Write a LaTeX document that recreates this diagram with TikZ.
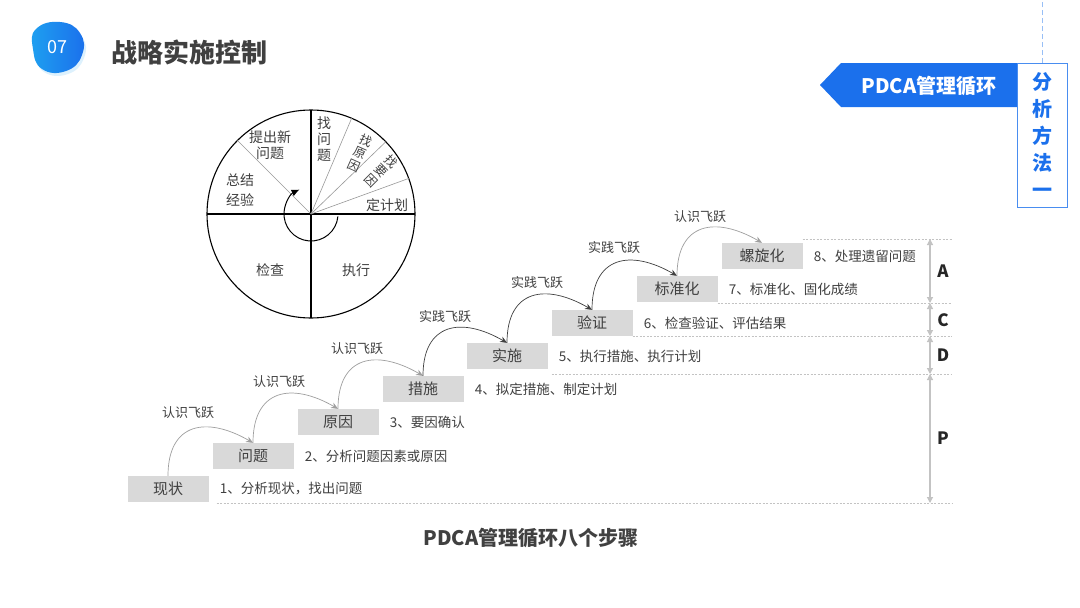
\documentclass[tikz,border=0pt]{standalone}
\usepackage{fontspec}
\setmainfont{Noto Sans CJK SC}
\usetikzlibrary{arrows.meta, positioning, calc}
\definecolor{pblue}{RGB}{27,112,236}
\definecolor{pcyan}{RGB}{30,160,240}
\definecolor{ink}{RGB}{64,64,64}
\definecolor{boxgray}{RGB}{217,217,217}
\definecolor{rulegray}{RGB}{195,195,195}

\begin{document}
\begin{tikzpicture}[x=1pt, y=1pt,
  stepbox/.style={fill=boxgray, minimum width=81pt, minimum height=26pt,
  inner sep=0pt, text=ink, font=\fontsize{15}{15}\selectfont},
  desc/.style={inner sep=0pt, text=ink, font=\fontsize{13.5}{14}\selectfont},
  leaplbl/.style={inner sep=0pt, text=ink, font=\fontsize{13}{13}\selectfont},
  knowarr/.style={-{Stealth[length=7pt,width=6pt]}, gray!75, line width=0.7pt, looseness=1.5},
  practarr/.style={-{Stealth[length=7pt,width=6pt]}, ink, line width=0.7pt, looseness=1.5},
  guide/.style={rulegray, dash pattern=on 2pt off 1.5pt, line width=0.6pt},
  phasearr/.style={{Triangle[length=6pt,width=6pt]}-{Triangle[length=6pt,width=6pt]}, rulegray, line width=1.2pt},
  phase/.style={font=\fontsize{17}{17}\selectfont\bfseries, text=black!85},
  wheeltxt/.style={text=ink, align=center, inner sep=0pt, font=\fontsize{14}{16}\selectfont},
  tilted/.style={wheeltxt, inner sep=0pt, font=\fontsize{12.5}{14}\selectfont}
]
\useasboundingbox (0,0) rectangle (1080,-608);
\fill[white] (0,0) rectangle (1080,-608);

% header
\fill[pcyan!15] plot[smooth cycle, tension=0.8] coordinates {(37,-33) (61,-25) (82,-37) (84,-58) (68,-74) (44,-72) (35,-53)};
\shade[left color=pcyan, right color=pblue] plot[smooth cycle, tension=0.8] coordinates {(36,-29) (60,-22) (80,-33) (82,-55) (66,-71) (42,-69) (33,-49)};
\node[text=white, font=\fontsize{18}{18}\selectfont] (num) at (57,-47) {07};
\node[anchor=west, text=ink, font=\fontsize{26}{26}\selectfont\bfseries] (title) at (108,-52) {战略实施控制};

% tag on the right
\fill[pblue] (820,-85) -- (841,-63) -- (1017,-63) -- (1017,-107) -- (841,-107) -- cycle;
\node[text=white, font=\fontsize{20}{20}\selectfont\bfseries] (tag) at (929,-86) {PDCA管理循环};
\node[draw=pblue!80, line width=0.8pt, fill=white, anchor=north west, minimum width=50pt,
  minimum height=144pt, inner sep=0pt, align=center, text=pblue,
  font=\fontsize{20}{27}\selectfont\bfseries] (side) at (1017,-63) {分\\析\\方\\法\\一};
\draw[pblue!45, dash pattern=on 5pt off 3pt, line width=0.8pt] (side.north) -- (side.north |- 0,0);

% wheel
\coordinate (c) at (311,-214);
\draw[line width=1.1pt] (c) circle (104);
\draw[line width=1.1pt] ($(c)+(-104,0)$) -- ($(c)+(104,0)$);
\draw[line width=1.1pt] ($(c)+(0,104)$) -- ($(c)+(0,-104)$);
\draw[gray!80, line width=0.6pt] (c) -- ++(135:104);
\draw[gray!80, line width=0.6pt] (c) -- ++(67:104);
\draw[gray!80, line width=0.6pt] (c) -- ++(44:104);
\draw[gray!80, line width=0.6pt] (c) -- ++(20:104);
\draw[line width=1pt, -{Latex[length=8pt,width=7pt]}] ($(c)+(-5:27)$) arc[start angle=-5, end angle=-245, radius=27];
\node[wheeltxt] (newq) at (270,-145) {提出新\\问题};
\node[wheeltxt, font=\fontsize{14}{20}\selectfont] (sum) at (240,-190) {总结\\经验};
\node[wheeltxt] (findq) at (324,-139) {找\\问\\题};
\node[tilted, rotate=-24] (findc) at (360,-153) {找\\原\\因};
\node[tilted, rotate=-45] (findk) at (381,-171) {找\\要\\因};
\node[wheeltxt] (plan) at (387,-205) {定计划};
\node[wheeltxt] (check) at (270,-270) {检查};
\node[wheeltxt] (doit) at (356,-270) {执行};

% steps
\node[stepbox] (s1) at (168,-489) {现状};
\node[stepbox] (s2) at (253,-456) {问题};
\node[stepbox] (s3) at (338,-422) {原因};
\node[stepbox] (s4) at (423,-389) {措施};
\node[stepbox] (s5) at (507,-356) {实施};
\node[stepbox] (s6) at (592,-323) {验证};
\node[stepbox] (s7) at (677,-289) {标准化};
\node[stepbox] (s8) at (762,-256) {螺旋化};
\node[desc, right=11pt of s1] (d1) {1、分析现状，找出问题};
\node[desc, right=11pt of s2] (d2) {2、分析问题因素或原因};
\node[desc, right=11pt of s3] (d3) {3、要因确认};
\node[desc, right=11pt of s4] (d4) {4、拟定措施、制定计划};
\node[desc, right=11pt of s5] (d5) {5、执行措施、执行计划};
\node[desc, right=11pt of s6] (d6) {6、检查验证、评估结果};
\node[desc, right=11pt of s7] (d7) {7、标准化、固化成绩};
\node[desc, right=11pt of s8] (d8) {8、处理遗留问题};

\draw[knowarr]  (s1.north) to[out=90, in=150] (s2.north);
\draw[knowarr]  (s2.north) to[out=90, in=150] (s3.north);
\draw[knowarr]  (s3.north) to[out=90, in=150] (s4.north);
\draw[practarr] (s4.north) to[out=90, in=150] (s5.north);
\draw[practarr] (s5.north) to[out=90, in=150] (s6.north);
\draw[practarr] (s6.north) to[out=90, in=150] (s7.north);
\draw[knowarr]  (s7.north) to[out=90, in=150] (s8.north);
\node[leaplbl] (l1) at (188,-413) {认识飞跃};
\node[leaplbl] (l2) at (279,-382) {认识飞跃};
\node[leaplbl] (l3) at (357,-349) {认识飞跃};
\node[leaplbl] (l4) at (445,-317) {实践飞跃};
\node[leaplbl] (l5) at (537,-283) {实践飞跃};
\node[leaplbl] (l6) at (614,-248) {实践飞跃};
\node[leaplbl] (l7) at (700,-217) {认识飞跃};

% phases
\coordinate (rim) at (952,0);
\coordinate (lvA) at (930,-239);
\coordinate (lvC) at (930,-303);
\coordinate (lvD) at (930,-336);
\coordinate (lvP) at (930,-374);
\coordinate (lvE) at (930,-503);
\draw[guide] (s8.north east |- lvA) -- (lvA -| rim);
\draw[guide] (s7.south east |- lvC) -- (lvC -| rim);
\draw[guide] (s6.south east |- lvD) -- (lvD -| rim);
\draw[guide] ([xshift=4pt]s5.south east |- lvP) -- (lvP -| rim);
\draw[guide] ([xshift=8pt]s1.south east |- lvE) -- (lvE -| rim);
\draw[phasearr] (lvA) -- (lvC);
\draw[phasearr] (lvC) -- (lvD);
\draw[phasearr] (lvD) -- (lvP);
\draw[phasearr] (lvP) -- (lvE);
\node[phase] (pa) at (943,-271) {A};
\node[phase] (pc) at (943,-320) {C};
\node[phase] (pd) at (943,-355) {D};
\node[phase] (pp) at (943,-438) {P};

\node[text=ink, font=\fontsize{20}{20}\selectfont\bfseries] (caption) at (531,-538) {PDCA管理循环八个步骤};
\end{tikzpicture}
\end{document}
